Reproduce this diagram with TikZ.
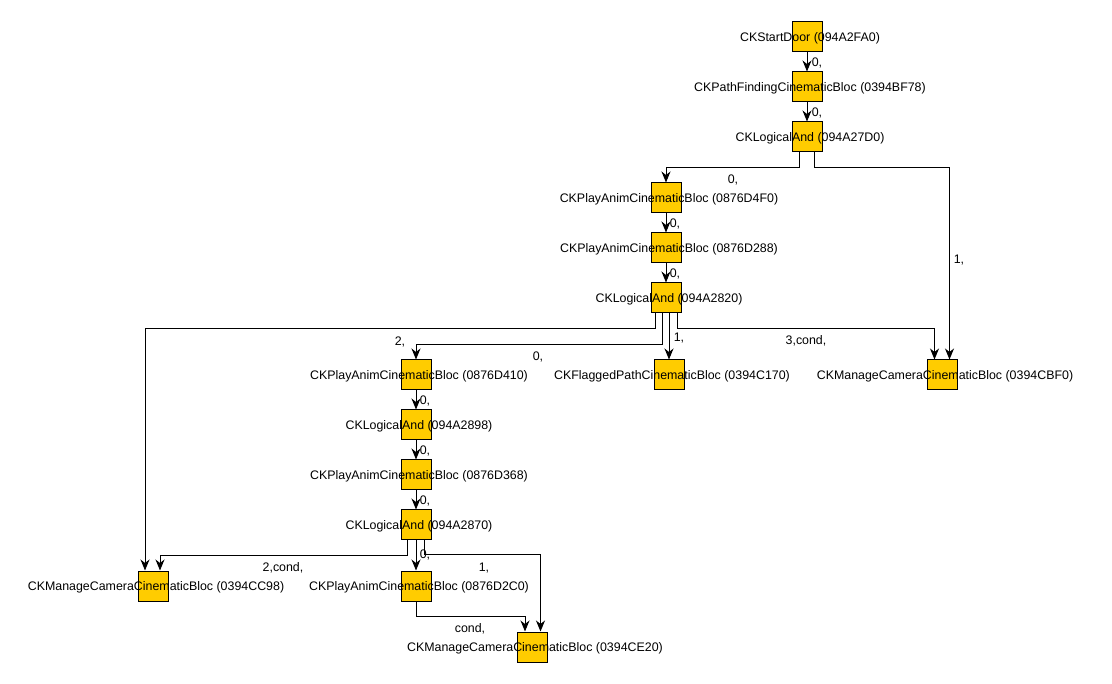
\documentclass[tikz,border=0pt]{standalone}
\usepackage{fontspec}
\setmainfont{Liberation Sans}
\usetikzlibrary{arrows.meta,positioning}
\definecolor{blocfill}{RGB}{255,204,0}
\tikzstyle{bloc} = [draw, fill=blocfill, minimum size=30pt, inner sep=0pt,
    line width=1pt]
\tikzstyle{blocname} = [font=\fontsize{12.4}{14}\selectfont, inner sep=0pt,
    xshift=3pt, yshift=-1.5pt]
\tikzstyle{num} = [font=\fontsize{12.4}{14}\selectfont, inner sep=0pt]
\tikzstyle{wire} = [draw, line width=1pt,
    -{Stealth[length=11pt,width=9pt,inset=3.5pt]}]

\begin{document}
\begin{tikzpicture}[x=1pt, y=-1pt]
  \useasboundingbox (0,0) rectangle (1112,684);
  % top chain
  \node [bloc, label={[blocname]center:CKStartDoor (094A2FA0)}] (door)
    at (807,37) {};
  \node [bloc, below=19pt of door,
    label={[blocname]center:CKPathFindingCinematicBloc (0394BF78)}] (path) {};
  \node [bloc, below=19pt of path,
    label={[blocname]center:CKLogicalAnd (094A27D0)}] (and1) {};
  % second chain
  \node [bloc, label={[blocname]center:CKPlayAnimCinematicBloc (0876D4F0)}]
    (anim1) at (666,198) {};
  \node [bloc, below=19pt of anim1,
    label={[blocname]center:CKPlayAnimCinematicBloc (0876D288)}] (anim2) {};
  \node [bloc, below=19pt of anim2,
    label={[blocname]center:CKLogicalAnd (094A2820)}] (and2) {};
  % third row
  \node [bloc, label={[blocname]center:CKPlayAnimCinematicBloc (0876D410)}]
    (anim3) at (416,375) {};
  \node [bloc, label={[blocname]center:CKFlaggedPathCinematicBloc (0394C170)}]
    (flag) at (669,375) {};
  \node [bloc, label={[blocname]center:CKManageCameraCinematicBloc (0394CBF0)}]
    (cam1) at (942,375) {};
  \node [bloc, below=19pt of anim3,
    label={[blocname]center:CKLogicalAnd (094A2898)}] (and3) {};
  \node [bloc, below=19pt of and3,
    label={[blocname]center:CKPlayAnimCinematicBloc (0876D368)}] (anim4) {};
  \node [bloc, below=19pt of anim4,
    label={[blocname]center:CKLogicalAnd (094A2870)}] (and4) {};
  % bottom rows
  \node [bloc, label={[blocname]center:CKManageCameraCinematicBloc (0394CC98)}]
    (cam2) at (153,586) {};
  \node [bloc, label={[blocname]center:CKPlayAnimCinematicBloc (0876D2C0)}]
    (anim5) at (416,586) {};
  \node [bloc, label={[blocname]center:CKManageCameraCinematicBloc (0394CE20)}]
    (cam3) at (532,647) {};

  % connectors
  \draw [wire] (door) -- (path) node [num] (l1) at (817,63) {0,};
  \draw [wire] (path) -- (and1) node [num] (l2) at (817,113) {0,};
  \draw [wire] ([xshift=-7.5pt]and1.south) -- ++(0,15) -| (anim1.north)
    node [num] (l3) at (733,180) {0,};
  \draw [wire] ([xshift=7.5pt]and1.south) -- ++(0,15) -| ([xshift=7.5pt]cam1.north)
    node [num] (l4) at (959,260) {1,};
  \draw [wire] (anim1) -- (anim2) node [num] (l5) at (675,224) {0,};
  \draw [wire] (anim2) -- (and2) node [num] (l6) at (675,274) {0,};
  \draw [wire] ([xshift=-11pt]and2.south) -- ++(0,15) -| ([xshift=-8pt]cam2.north)
    node [num] (l7) at (538,357) {0,};
  \draw [wire] ([xshift=-4pt]and2.south) -- ++(0,31) -| (anim3.north)
    node [num] (l8) at (400,342) {2,};
  \draw [wire] ([xshift=3pt]and2.south) -- (flag.north)
    node [num] (l9) at (679,338) {1,};
  \draw [wire] ([xshift=11pt]and2.south) -- ++(0,15) -| ([xshift=-7.5pt]cam1.north)
    node [num] (l10) at (806,341) {3,cond,};
  \draw [wire] (anim3) -- (and3) node [num] (l11) at (425,401) {0,};
  \draw [wire] (and3) -- (anim4) node [num] (l12) at (425,451) {0,};
  \draw [wire] (anim4) -- (and4) node [num] (l13) at (425,501) {0,};
  \draw [wire] ([xshift=-9pt]and4.south) -- ++(0,15) -| ([xshift=7pt]cam2.north)
    node [num] (l14) at (283,568) {2,cond,};
  \draw [wire] (and4) -- (anim5) node [num] (l15) at (425,555) {0,};
  \draw [wire] ([xshift=8pt]and4.south) -- ++(0,14) -| ([xshift=8.5pt]cam3.north)
    node [num] (l16) at (484,568) {1,};
  \draw [wire] (anim5.south) -- ++(0,15) -| ([xshift=-7pt]cam3.north)
    node [num] (l17) at (470,629) {cond,};
\end{tikzpicture}
\end{document}
